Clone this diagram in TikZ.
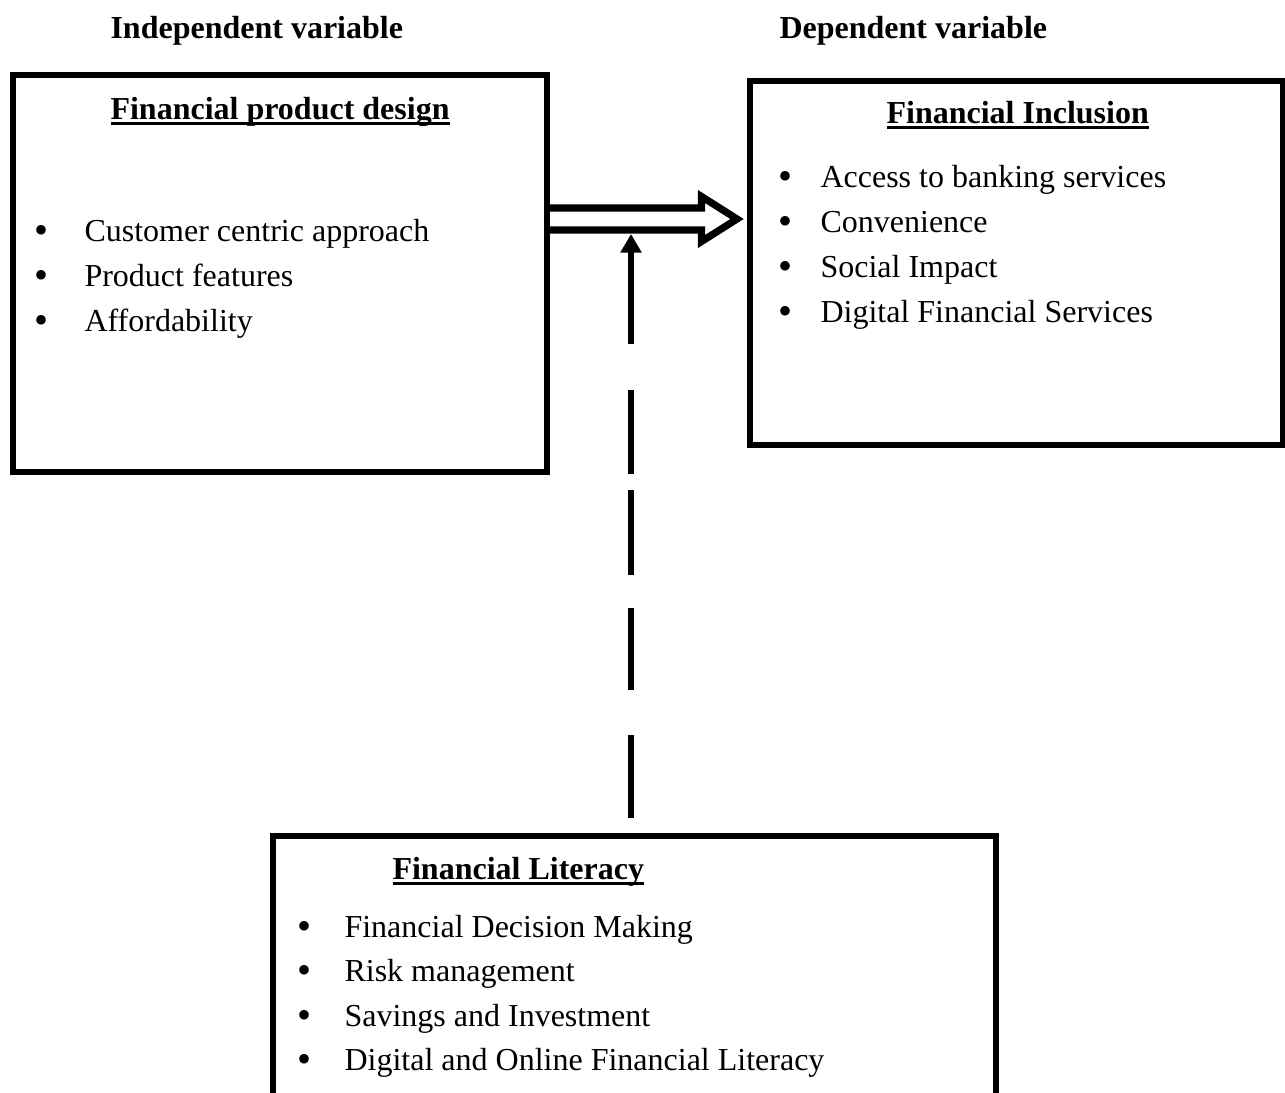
\documentclass[tikz,border=0pt]{standalone}
\usepackage{fontspec}
\setmainfont{Liberation Serif}
\usetikzlibrary{arrows.meta}
\newcommand{\myul}[1]{\setbox0\hbox{#1}\rlap{\vrule height -1.25pt depth 2.4pt width \wd0}\box0}
\begin{document}
\begin{tikzpicture}[x=0.375pt,y=-0.375pt,
  box/.style={draw, line width=2.25pt, inner sep=0, rectangle},
  txt/.style={inner sep=0, anchor=base west, font=\fontsize{12pt}{14pt}\selectfont},
  hd/.style={inner sep=0, anchor=base west, font=\fontsize{12pt}{14pt}\selectfont\bfseries},
  bul/.style={inner sep=0, anchor=base, font=\fontsize{15pt}{16pt}\selectfont},
  link/.style={line width=2.7pt, line join=miter}]
\clip (0,0) rectangle (1285,1092);
% boxes
\node[box, minimum width=200.25pt, minimum height=148.875pt] (pd) at (280,273.5) {};
\node[box, minimum width=199.875pt, minimum height=136.5pt] (fi) at (1016,263) {};
\node[box, minimum width=270.94pt, minimum height=117.75pt] (fl) at (634.25,993) {};
% column titles
\node[hd] (iv) at (110,38) {Independent variable};
\node[hd] (dv) at (779,38) {Dependent variable};
% headings
\node[hd] (pdh) at (110,119) {\myul{Financial product design}};
\node[hd] (fih) at (886,123) {\myul{Financial Inclusion}};
\node[hd] (flh) at (392,879) {\myul{Financial Literacy}};
% left list
\node[bul] (pdb1) at (41.7,243) {•};
\node[txt] (pd1) at (84,241) {Customer centric approach};
\node[bul] (pdb2) at (41.7,288) {•};
\node[txt] (pd2) at (84,286) {Product features};
\node[bul] (pdb3) at (41.7,333) {•};
\node[txt] (pd3) at (84,331) {Affordability};
% right list
\node[bul] (fib1) at (785,189) {•};
\node[txt] (fi1) at (820,187) {Access to banking services};
\node[bul] (fib2) at (785,234) {•};
\node[txt] (fi2) at (820,232) {Convenience};
\node[bul] (fib3) at (785,279) {•};
\node[txt] (fi3) at (820,277) {Social Impact};
\node[bul] (fib4) at (785,324) {•};
\node[txt] (fi4) at (820,322) {Digital Financial Services};
% bottom list
\node[bul] (flb1) at (304,939) {•};
\node[txt] (fl1) at (344,937) {Financial Decision Making};
\node[bul] (flb2) at (304,983) {•};
\node[txt] (fl2) at (344,981) {Risk management};
\node[bul] (flb3) at (304,1028) {•};
\node[txt] (fl3) at (344,1026) {Savings and Investment};
\node[bul] (flb4) at (304,1072) {•};
\node[txt] (fl4) at (344,1070) {Digital and Online Financial Literacy};
% double (outline) arrow from pd to fi
\coordinate (da) at (pd.east |- 0,219);
\coordinate (db) at (737,219);
\draw[link] ([yshift=-11*0.375pt]da) -- ([yshift=-11*0.375pt]da -| 701.5,0) -- ([yshift=-22.5*0.375pt]da -| 701.5,0) -- (db)
  -- ([yshift=22.5*0.375pt]da -| 701.5,0) -- ([yshift=11*0.375pt]da -| 701.5,0) -- ([yshift=11*0.375pt]da);
% dashed moderator arrow
\coordinate (vs) at (631,818);
\coordinate (ve) at (631,234);
\draw[line width=2.4pt, -{Triangle[length=7pt,width=7.6pt]},
  dash pattern={on 31.1pt off 16.9pt on 30.75pt off 12.4pt on 31.9pt off 6pt on 31.5pt off 17.25pt on 60pt off 1pt}]
  (vs) -- (ve);
\end{tikzpicture}
\end{document}
